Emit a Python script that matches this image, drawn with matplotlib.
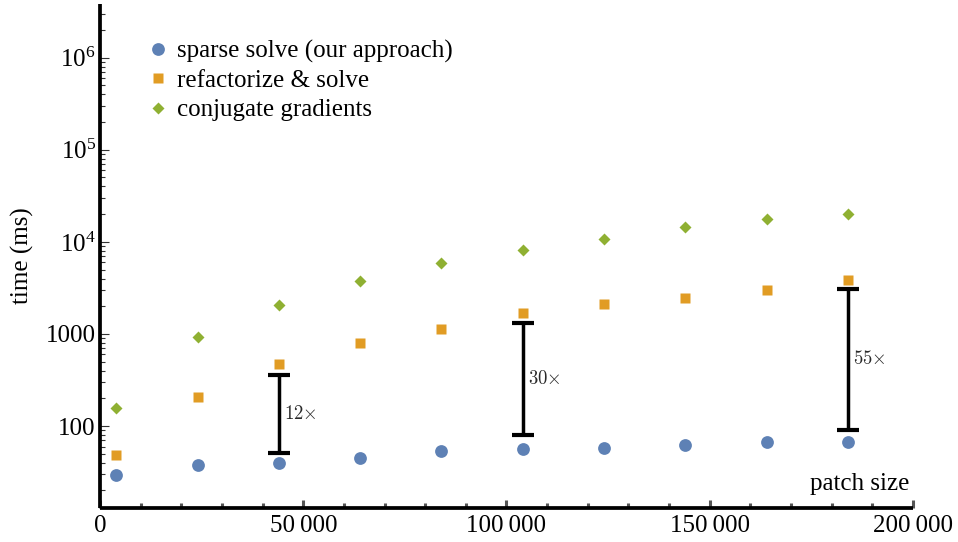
import matplotlib.pyplot as plt
import matplotlib.ticker as mticker

plt.rcParams['font.family'] = ['Liberation Serif', 'DejaVu Serif']
plt.rcParams['font.size'] = 18

# timings per patch size (ms)
patch_size = [4000, 24000, 44000, 64000, 84000, 104000, 124000, 144000, 164000, 184000]
sparse_ms = [29.6, 37.4, 39.4, 44.7, 53.2, 56.3, 58.2, 62.2, 67.6, 67.6]
refactor_ms = [48, 205, 467, 789, 1120, 1710, 2140, 2440, 2965, 3900]
cg_ms = [158, 916, 2040, 3740, 5860, 8110, 10700, 14400, 17900, 20100]

# speedup brackets
speedup_x = [44000, 104000, 184000]
bracket_lo = [51.4, 80.6, 91.2]
bracket_hi = [357, 1318, 3083]
speedup_labels = ['12', '30', '55']

x_ticks = [0, 50000, 100000, 150000, 200000]
x_tick_labels = ['0', '50\u2009000', '100\u2009000', '150\u2009000', '200\u2009000']
y_ticks = [100, 1000, 1e4, 1e5, 1e6]
y_tick_labels = ['100', '1000', r'$\mathregular{10^{4}}$', r'$\mathregular{10^{5}}$',
                 r'$\mathregular{10^{6}}$']

blue = '#5E81B5'
orange = '#E19C24'
green = '#8FB032'

fig = plt.figure(figsize=(9.58, 5.42), dpi=100)
ax = fig.add_axes([0.1044, 0.0633, 0.8486, 0.9293])

ax.plot(patch_size, sparse_ms, 'o', ms=9.2, color=blue, mec='none',
        label='sparse solve (our approach)', zorder=3)
ax.plot(patch_size, refactor_ms, 's', ms=6.5, color=orange, mec='none',
        label='refactorize & solve', zorder=3)
ax.plot(patch_size, cg_ms, 'D', ms=6.3, color=green, mec='none',
        label='conjugate gradients', zorder=3)

cap_half = 2700
for x, lo, hi, lab in zip(speedup_x, bracket_lo, bracket_hi, speedup_labels):
    ax.plot([x, x], [lo, hi], color='black', lw=2.5, solid_capstyle='butt')
    ax.hlines([lo, hi], x - cap_half, x + cap_half, color='black', lw=3)
    ax.annotate(r'$' + lab + r'{\times}$', xy=(x, (lo * hi) ** 0.5),
                xytext=(4, 0), textcoords='offset points',
                ha='left', va='center', fontsize=13.5, color='#2a2a2a',
                math_fontfamily='cm')

ax.set_yscale('log')
ax.set_xlim(0, 200000)
ax.set_ylim(13.0, 3.82e6)

for side in ['top', 'right']:
    ax.spines[side].set_visible(False)
for side in ['left', 'bottom']:
    ax.spines[side].set_linewidth(2.7)
    ax.spines[side].set_capstyle('butt')

ax.xaxis.set_major_locator(mticker.FixedLocator(x_ticks))
ax.xaxis.set_major_formatter(mticker.FixedFormatter(x_tick_labels))
ax.xaxis.set_minor_locator(mticker.MultipleLocator(10000))
ax.tick_params(axis='x', which='major', direction='in', length=5.5, width=2.2,
               color='#555555', pad=5, labelsize=18)
ax.tick_params(axis='x', which='minor', direction='in', length=3.5, width=2.2,
               color='#555555')

ax.yaxis.set_major_locator(mticker.FixedLocator(y_ticks))
ax.yaxis.set_major_formatter(mticker.FixedFormatter(y_tick_labels))
ax.yaxis.set_minor_locator(mticker.LogLocator(base=10, subs=range(2, 10), numticks=20))
ax.yaxis.set_minor_formatter(mticker.NullFormatter())
ax.tick_params(axis='y', which='major', direction='in', length=6.5, width=0.8,
               color='#333333', pad=3, labelsize=18)
ax.tick_params(axis='y', which='minor', direction='in', length=3.6, width=0.8,
               color='#333333')

ax.set_xlabel('patch size', ha='right', va='baseline')
ax.xaxis.set_label_coords(0.995, 0.035)
ax.set_ylabel('time (ms)', va='center')
ax.yaxis.set_label_coords(-0.096, 0.5)

ax.legend(loc='upper left', bbox_to_anchor=(0.056, 0.929), frameon=False,
          borderpad=0, borderaxespad=0, handlelength=1.0, handletextpad=0.25,
          labelspacing=0.27, fontsize=18)

fig.savefig('out.png', dpi=100)
